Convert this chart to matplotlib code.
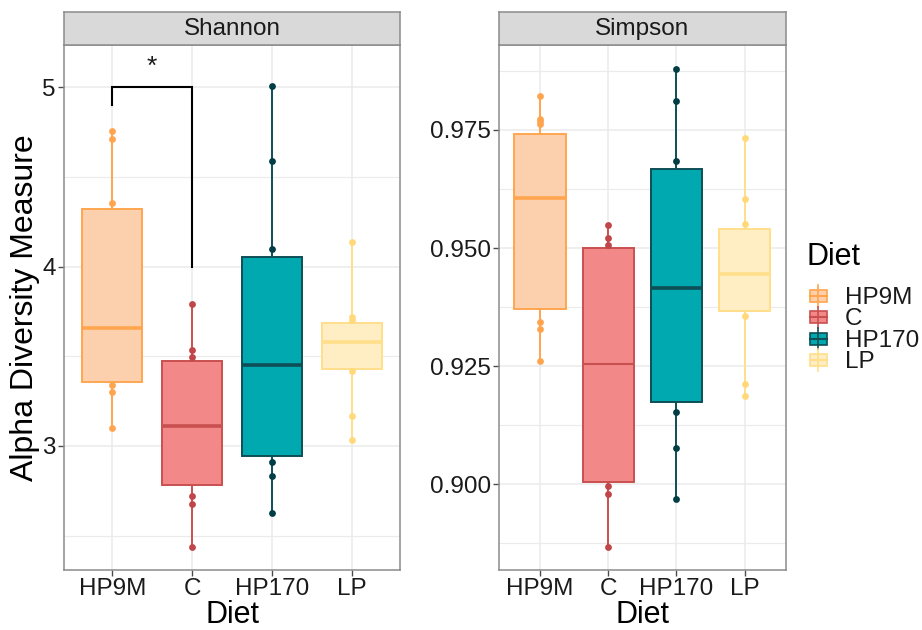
import matplotlib
matplotlib.use("Agg")
import matplotlib.pyplot as plt
from matplotlib.patches import Rectangle
from matplotlib.lines import Line2D

plt.rcParams['font.family'] = ['Liberation Sans', 'DejaVu Sans']

diets = ["HP9M", "C", "HP170", "LP"]
edge_colors = ["#FFA54F", "#C8504F", "#0E4E56", "#FFDF8A"]
fill_colors = ["#FDD0AD", "#F38888", "#00A9B0", "#FFEEC4"]
point_colors = ["#FFA54F", "#C0464A", "#003D45", "#FFD97A"]

# Shannon box stats
sh_q1 = [3.358, 2.784, 2.944, 3.429]
sh_med = [3.660, 3.111, 3.451, 3.581]
sh_q3 = [4.320, 3.472, 4.052, 3.687]
sh_lo = [3.100, 2.438, 2.626, 3.031]
sh_hi = [4.755, 3.790, 5.010, 4.135]
sh_pts = [
    [4.755, 4.71, 4.355, 3.34, 3.30, 3.10],
    [3.79, 3.535, 3.494, 2.72, 2.676, 2.438],
    [5.01, 4.59, 4.10, 2.91, 2.83, 2.626],
    [4.135, 3.72, 3.70, 3.42, 3.168, 3.031],
]

# Simpson box stats
si_q1 = [0.9371, 0.9005, 0.9174, 0.9367]
si_med = [0.9605, 0.9254, 0.9416, 0.9444]
si_q3 = [0.9742, 0.9501, 0.9667, 0.9541]
si_lo = [0.9261, 0.8867, 0.8968, 0.9187]
si_hi = [0.9822, 0.9549, 0.9879, 0.9732]
si_pts = [
    [0.9822, 0.9773, 0.9768, 0.9763, 0.9344, 0.9328, 0.9261],
    [0.9549, 0.9522, 0.9507, 0.8995, 0.8979, 0.8867],
    [0.9879, 0.9812, 0.9685, 0.9153, 0.9076, 0.8968],
    [0.9732, 0.9604, 0.9551, 0.9357, 0.9212, 0.9187],
]

sh_ticks = [3, 4, 5]
sh_minor = [2.5, 3.5, 4.5]
si_ticks = [0.900, 0.925, 0.950, 0.975]
si_minor = [0.8875, 0.9125, 0.9375, 0.9625, 0.9875]

# significance annotation
sig_pair = (0, 1)
sig_y = 5.0
sig_legs = (4.90, 4.00)
sig_label = "*"

W, H = 922, 630
fig = plt.figure(figsize=(W / 100, H / 100), dpi=100)

def frac(x0, x1, y0, y1):
    return [x0 / W, 1 - y1 / H, (x1 - x0) / W, (y1 - y0) / H]

ax1 = fig.add_axes(frac(64.3, 400, 45, 570))
ax2 = fig.add_axes(frac(499, 785.7, 45, 570))

grid_c = "#EBEBEB"
border_c = "#8C8C8C"
TICK_FS = 17.5

def panel(ax, q1, med, q3, lo, hi, pts, ticks, minor, ylim, ticklabels, title, med_w):
    ax.set_xlim(0.4, 4.6)
    ax.set_ylim(*ylim)
    stats = []
    for i in range(4):
        stats.append(dict(q1=q1[i], med=med[i], q3=q3[i], whislo=lo[i], whishi=hi[i], fliers=[]))
    pos = list(range(1, 5))
    bp = ax.bxp(stats, positions=pos, widths=0.75, patch_artist=True, showcaps=False,
                showfliers=False, zorder=3)
    for i in range(4):
        b = bp['boxes'][i]
        b.set_facecolor(fill_colors[i])
        b.set_edgecolor(edge_colors[i])
        b.set_linewidth(1.4)
        m = bp['medians'][i]
        m.set_color(edge_colors[i])
        m.set_linewidth(med_w[i])
        m.set_solid_capstyle('butt')
        m.set_zorder(4)
        for w in bp['whiskers'][2 * i:2 * i + 2]:
            w.set_color(edge_colors[i])
            w.set_linewidth(1.4)
            w.set_zorder(2)
        ax.scatter([pos[i]] * len(pts[i]), pts[i], s=24, color=point_colors[i],
                   zorder=5, linewidths=0)
    ax.set_yticks(ticks)
    ax.set_yticklabels(ticklabels)
    ax.set_yticks(minor, minor=True)
    ax.set_xticks(pos)
    ax.set_xticklabels(diets)
    ax.grid(True, which='major', color=grid_c, linewidth=1.1, zorder=0)
    ax.grid(True, which='minor', axis='y', color=grid_c, linewidth=0.8, zorder=0)
    ax.set_axisbelow(True)
    ax.tick_params(which='minor', length=0)
    ax.tick_params(which='major', length=4, width=1, color="#4D4D4D", pad=2,
                   labelsize=TICK_FS, labelcolor="#1A1A1A")
    for s in ax.spines.values():
        s.set_color(border_c)
        s.set_linewidth(1.1)
    ax.set_xlabel("Diet", fontsize=22, labelpad=0, color="black")
    # facet strip
    strip = ax.inset_axes([0, 1.0, 1, 33.3 / 525])
    strip.set_xticks([])
    strip.set_yticks([])
    strip.set_facecolor("#D9D9D9")
    for s in strip.spines.values():
        s.set_color(border_c)
        s.set_linewidth(1.1)
    strip.text(0.5, 0.47, title, ha='center', va='center', fontsize=17.5, color="#1A1A1A",
               transform=strip.transAxes)
    return bp

panel(ax1, sh_q1, sh_med, sh_q3, sh_lo, sh_hi, sh_pts, sh_ticks, sh_minor,
      (2.308, 5.236), [str(t) for t in sh_ticks], "Shannon", [2.6, 2.6, 2.6, 2.6])
panel(ax2, si_q1, si_med, si_q3, si_lo, si_hi, si_pts, si_ticks, si_minor,
      (0.8818, 0.9930), ["%.3f" % t for t in si_ticks], "Simpson", [2.6, 1.5, 2.6, 2.6])

ax1.set_ylabel("Alpha Diversity Measure", fontsize=23, labelpad=2, color="black")

# significance bracket
xa, xb = sig_pair[0] + 1, sig_pair[1] + 1
ax1.plot([xa, xa, xb, xb], [sig_legs[0], sig_y, sig_y, sig_legs[1]], color="black",
         linewidth=1.5, zorder=6, solid_joinstyle='miter')
ax1.text((xa + xb) / 2, sig_y + 0.075, sig_label, ha='center', va='baseline', fontsize=19, color="#1A1A1A")

# legend (manual) with mini boxplot keys
def fx(px):
    return px / W

def fy(py):
    return 1 - py / H

fig.text(fx(806), fy(264.5), "Diet", fontsize=22, va='baseline', ha='left', color="black")
row0, step = 296.0, 21.3
kx0, kw = 809.5, 17.0
for i, lab in enumerate(diets):
    cy = row0 + i * step
    fig.add_artist(Line2D([fx(kx0 + kw / 2)] * 2, [fy(cy - step / 2), fy(cy + step / 2)],
                          color=edge_colors[i], linewidth=1.2, transform=fig.transFigure))
    fig.add_artist(Rectangle((fx(kx0), fy(cy + 6)), kw / W, 12 / H, facecolor=fill_colors[i],
                             edgecolor=edge_colors[i], linewidth=1.2, transform=fig.transFigure))
    fig.add_artist(Line2D([fx(kx0), fx(kx0 + kw)], [fy(cy)] * 2, color=edge_colors[i],
                          linewidth=1.5, transform=fig.transFigure))
    fig.text(fx(845), fy(cy + 8.0), lab, fontsize=TICK_FS, va='baseline', ha='left', color="#1A1A1A")

fig.savefig("out.png", dpi=100)
